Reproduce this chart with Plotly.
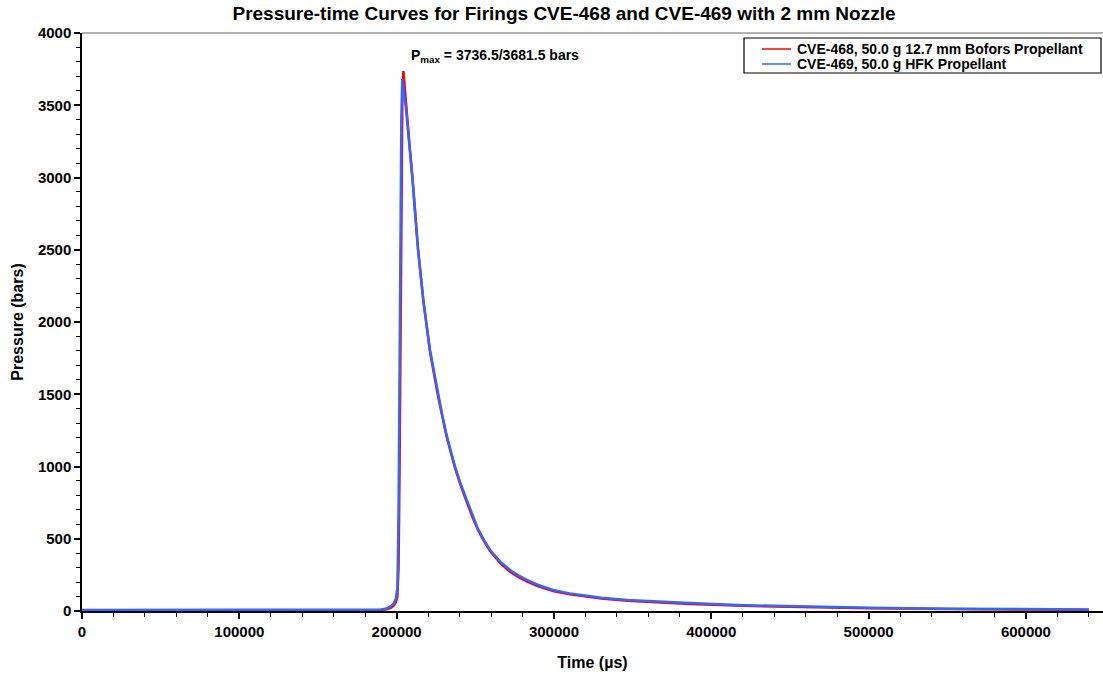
import plotly.graph_objects as go

# Time (µs) sample points
time_red = [0, 50000, 100000, 150000, 185000, 190000, 193000, 196000, 198000, 199500,
            200500, 201200, 201800, 202400, 203000, 203600, 204300, 206000, 208000, 210000,
            213600, 217000, 221200, 226000, 229000, 231800, 234500, 237100, 241000, 244500,
            248000, 251700, 255500, 259400, 266000, 272100, 277000, 282700, 290000, 299400,
            310000, 318500, 330000, 346500, 366000, 386500, 420000, 450000, 500000, 550000,
            600000, 640000]
p_red = [3, 3, 3, 3, 4, 6, 10, 20, 35, 60,
         100, 300, 900, 1900, 2900, 3500, 3736.5, 3490, 3250, 3010,
         2505, 2145, 1795, 1505, 1345, 1205, 1095, 990, 860, 755,
         655, 560, 483, 415, 330, 272, 237, 205, 170, 138,
         115, 103, 87, 71, 59, 49, 36, 28, 19, 13,
         10, 9]

time_blue = [0, 50000, 100000, 150000, 185000, 190000, 193000, 196000, 198000, 199500,
             200500, 201200, 201800, 202400, 203000, 203600, 204300, 206000, 208000, 210000,
             213600, 217000, 221200, 226000, 229000, 231800, 234500, 237100, 241000, 244500,
             248000, 251700, 255500, 259400, 266000, 272100, 277000, 282700, 290000, 299400,
             310000, 318500, 330000, 346500, 366000, 386500, 420000, 450000, 500000, 550000,
             600000, 640000]
p_blue = [7, 7, 7, 7, 8, 10, 16, 30, 50, 85,
          160, 650, 1550, 2650, 3420, 3681.5, 3620, 3470, 3235, 2995,
          2500, 2150, 1806, 1515, 1355, 1215, 1105, 1000, 870, 768,
          665, 568, 490, 422, 340, 284, 248, 215, 180, 145,
          122, 111, 92, 76, 64, 55, 40, 32, 22, 16,
          13, 11]

series_names = ["CVE-468, 50.0 g 12.7 mm Bofors Propellant", "CVE-469, 50.0 g HFK Propellant"]
series_colors = ["#FF0000", "#3366FF"]
pmax_text = "P<sub>max</sub> = 3736.5/3681.5 bars"
title_text = "Pressure-time Curves for Firings CVE-468 and CVE-469 with 2 mm Nozzle"

FONT = "Liberation Sans, Arial, sans-serif"

fig = go.Figure()
fig.add_trace(go.Scatter(x=time_red, y=p_red, mode="lines", name=series_names[0],
                         line=dict(color=series_colors[0], width=2.5)))
fig.add_trace(go.Scatter(x=time_blue, y=p_blue, mode="lines", name=series_names[1],
                         line=dict(color=series_colors[1], width=2.5)))

fig.add_annotation(x=207900, y=3841, xref="x", yref="y", text=pmax_text, showarrow=False,
                   xanchor="left", yanchor="middle",
                   font=dict(family=FONT, size=14, color="black", weight="bold"))

# top frame line
fig.add_shape(type="line", xref="paper", yref="paper", x0=0, x1=1, y0=1, y1=1,
              line=dict(color="#999999", width=1.5))

# legend box drawn by hand (paper coordinates)
PW, PH, L, T0 = 1021.0, 578.0, 82.0, 611.0
def px_x(p):
    return (p - L) / PW
def px_y(p):
    return (T0 - p) / PH

fig.add_shape(type="rect", xref="paper", yref="paper",
              x0=px_x(744), x1=px_x(1101), y0=px_y(73), y1=px_y(38),
              line=dict(color="black", width=1.2), fillcolor="white", layer="above")
for i, (nm, col) in enumerate(zip(series_names, series_colors)):
    yy = px_y(49 + 15 * i)
    fig.add_shape(type="line", xref="paper", yref="paper",
                  x0=px_x(762), x1=px_x(791), y0=yy, y1=yy,
                  line=dict(color=col, width=1.5), layer="above")
    fig.add_annotation(x=px_x(795), y=yy, xref="paper", yref="paper", text=nm,
                       showarrow=False, xanchor="left", yanchor="middle",
                       font=dict(family=FONT, size=14, color="black", weight="bold"))

fig.update_layout(
    width=1103, height=679,
    margin=dict(l=82, r=0, t=33, b=68),
    paper_bgcolor="white", plot_bgcolor="white",
    title=dict(text=title_text, x=564/1103, xanchor="center", y=1 - 13/679, yanchor="middle",
               font=dict(family=FONT, size=19, color="black", weight="bold")),
    font=dict(family=FONT, color="black"),
    showlegend=False,
)

fig.update_xaxes(range=[0, 649000], tick0=0, dtick=100000, tickformat="d",
                 showgrid=False, zeroline=False,
                 showline=True, linecolor="black", linewidth=1.5,
                 ticks="outside", ticklen=6, tickwidth=1.5, tickcolor="black",
                 minor=dict(dtick=20000, ticks="outside", ticklen=4, tickwidth=1, tickcolor="black", showgrid=False),
                 tickfont=dict(family=FONT, size=15, color="black", weight="bold"),
                 title=dict(text="Time (µs)", font=dict(family=FONT, size=16, color="black", weight="bold"), standoff=18))
fig.update_yaxes(range=[0, 4000], tick0=0, dtick=500, tickformat="d",
                 showgrid=False, zeroline=False,
                 showline=True, linecolor="black", linewidth=1.5,
                 ticks="outside", ticklen=6, tickwidth=1.5, tickcolor="black",
                 minor=dict(dtick=100, ticks="outside", ticklen=4, tickwidth=1, tickcolor="black", showgrid=False),
                 tickfont=dict(family=FONT, size=15, color="black", weight="bold"),
                 title=dict(text="Pressure (bars)", font=dict(family=FONT, size=16, color="black", weight="bold"), standoff=10))

fig.write_html("out.html")
